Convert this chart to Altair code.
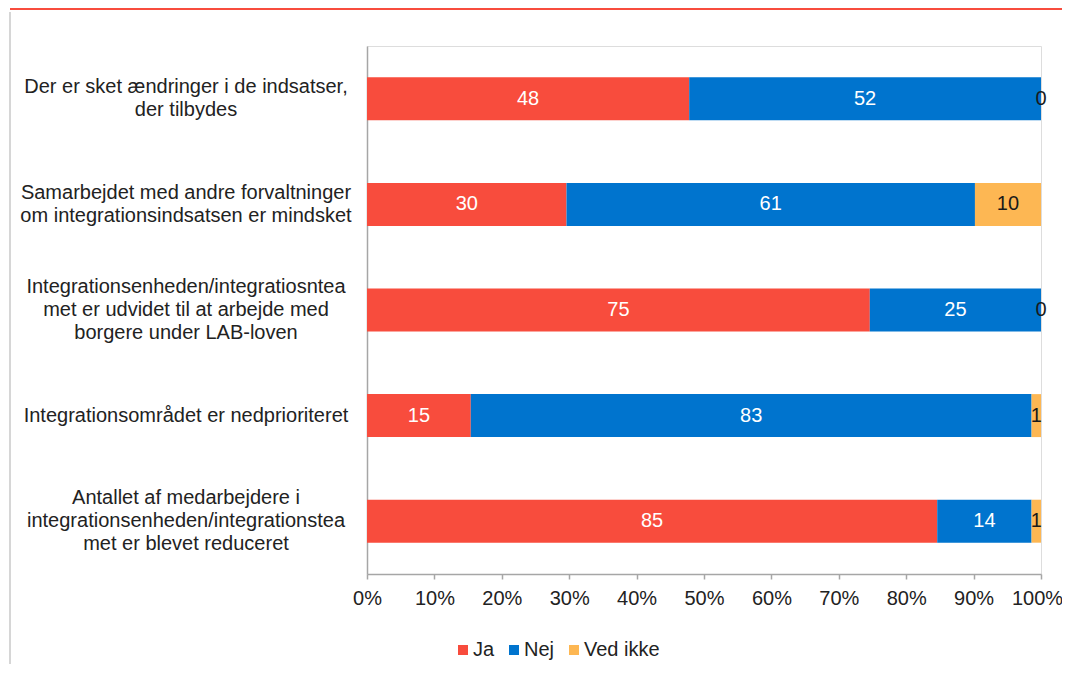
import altair as alt
import pandas as pd

categories = [
    "Der er sket ændringer i de indsatser,|der tilbydes",
    "Samarbejdet med andre forvaltninger|om integrationsindsatsen er mindsket",
    "Integrationsenheden/integratiosntea|met er udvidet til at arbejde med|borgere under LAB-loven",
    "Integrationsområdet er nedprioriteret",
    "Antallet af medarbejdere i|integrationsenheden/integrationstea|met er blevet reduceret",
]
series = ["Ja", "Nej", "Ved ikke"]
ja = [47.8, 29.6, 74.6, 15.4, 84.6]
nej = [52.2, 60.6, 25.4, 83.2, 14.0]
ved_ikke = [0.0, 9.8, 0.0, 1.4, 1.4]
colors = ["#F84C3D", "#0074CE", "#FDB753"]
x_ticks = [0, 0.1, 0.2, 0.3, 0.4, 0.5, 0.6, 0.7, 0.8, 0.9, 1.0]

rows = []
for i, cat in enumerate(categories):
    for j, (name, vals) in enumerate(zip(series, [ja, nej, ved_ikke])):
        rows.append({"cat": cat, "series": name, "value": vals[i], "order": j})
df = pd.DataFrame(rows)

FONT = "Liberation Sans"
TXT = "#222222"
AX = "#a6a6a6"
FS = 20
LH = 23

base = alt.Chart(df).transform_stack(
    stack="value",
    groupby=["cat"],
    as_=["v0", "v1"],
    offset="normalize",
    sort=[alt.SortField("order", order="ascending")],
)

y_enc = alt.Y(
    "cat:N",
    sort=categories,
    title=None,
    scale=alt.Scale(paddingInner=0.593, paddingOuter=0.2965),
    axis=alt.Axis(
        ticks=False,
        labels=False,
        domainColor=AX,
        domainWidth=1.5,
    ),
)

bars = base.mark_bar().encode(
    y=y_enc,
    x=alt.X(
        "v0:Q",
        title=None,
        scale=alt.Scale(domain=[0, 1], nice=False, zero=True),
        axis=alt.Axis(
            values=x_ticks,
            format=".0%",
            grid=False,
            labelOverlap=False,
            labelFlush=False,
            labelOffset={"condition": {"test": "datum.value >= 1", "value": -4}, "value": 0},
            domainColor=AX,
            domainWidth=1.5,
            tickColor=AX,
            tickWidth=1.5,
            tickSize=5,
            labelPadding=9,
            labelFont=FONT,
            labelFontSize=FS,
            labelColor=TXT,
        ),
    ),
    x2="v1:Q",
    color=alt.Color(
        "series:N",
        scale=alt.Scale(domain=series, range=colors),
        sort=series,
        legend=alt.Legend(
            title=None,
            orient="none",
            direction="horizontal",
            legendX=86,
            legendY=594,
            symbolType="square",
            symbolSize=100,
            symbolStrokeWidth=0,
            labelFont=FONT,
            labelFontSize=FS,
            labelColor=TXT,
            labelOffset=0,
            columnPadding=9,
            padding=0,
        ),
    ),
    order=alt.Order("order:Q"),
)

labels = base.transform_calculate(
    mid="(datum.v0 + datum.v1) / 2",
    lbl="format(datum.value, '.0f')",
    tc="datum.series === 'Ved ikke' ? '#1a1a1a' : '#ffffff'",
).mark_text(font=FONT, fontSize=FS, align="center", baseline="middle").encode(
    y=alt.Y("cat:N", sort=categories),
    x=alt.X("mid:Q"),
    text="lbl:N",
    color=alt.Color("tc:N", scale=None),
)

cat_labels = alt.Chart(df).transform_filter(
    "datum.series === 'Ja'"
).transform_calculate(
    yoff=f"21.5 - (split(datum.cat, '|').length - 1) * {LH / 2}"
).mark_text(
    font=FONT, fontSize=FS, align="center", baseline="middle",
    lineBreak="|", lineHeight=LH, color=TXT,
).encode(
    y=alt.Y("cat:N", sort=categories),
    yOffset=alt.YOffset("yoff:Q", scale=None),
    x=alt.value(-181),
    text="cat:N",
)

deco = pd.DataFrame({"k": [0]})
left_line = alt.Chart(deco).mark_rule(color="#c8c8c8", strokeWidth=1.5).encode(
    x=alt.value(-357), y=alt.value(-34), y2=alt.value(620)
)
top_line = alt.Chart(deco).mark_rule(color="#F84C3D", strokeWidth=2).encode(
    x=alt.value(-357), x2=alt.value(700), y=alt.value(-37)
)

chart = alt.layer(bars, labels, cat_labels, left_line, top_line).properties(
    width=674,
    height=528,
    autosize=alt.AutoSizeParams(type="none"),
    padding={"left": 359, "top": 38, "right": 21, "bottom": 90},
).configure_view(stroke=None).configure(background="white")

chart.save("out.html", embed_options={"renderer": "svg", "actions": False})
